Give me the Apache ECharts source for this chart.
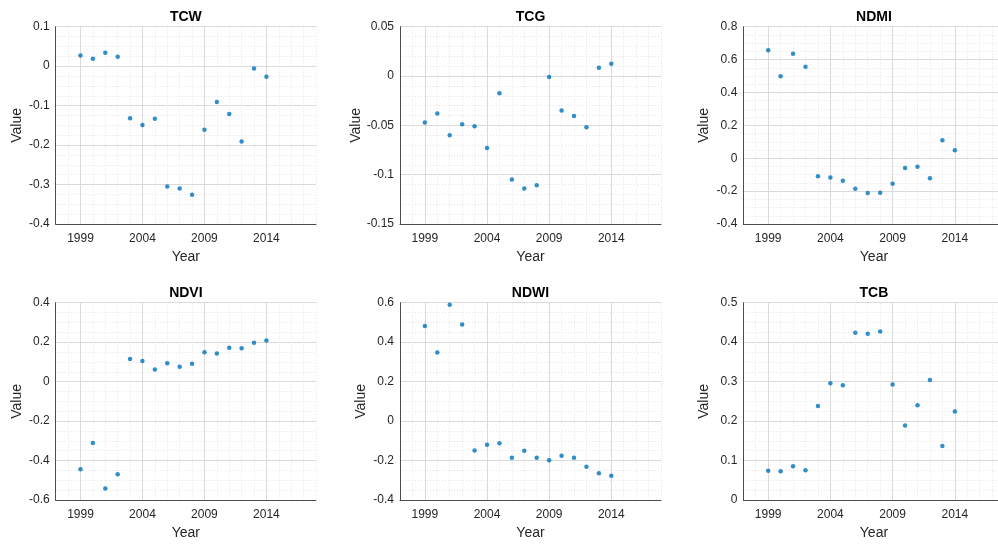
<!DOCTYPE html>
<html>
<head>
<meta charset="utf-8">
<script src="https://cdn.jsdelivr.net/npm/echarts@6/dist/echarts.min.js"></script>
<style>
html,body{margin:0;padding:0;background:#fff;}
#chart{width:998px;height:545px;}
</style>
</head>
<body>
<div id="chart"></div>
<script>
// ---- data ----
const years = [1999,2000,2001,2002,2003,2004,2005,2006,2007,2008,2009,2010,2011,2012,2013,2014];
const majorYears = [1999, 2004, 2009, 2014];
const titles = ['TCW', 'TCG', 'NDMI', 'NDVI', 'NDWI', 'TCB'];
const tcw  = [0.027, 0.019, 0.034, 0.024, -0.132, -0.149, -0.133, -0.305, -0.310, -0.326, -0.161, -0.091, -0.121, -0.191, -0.006, -0.027];
const tcg  = [-0.047, -0.038, -0.060, -0.049, -0.051, -0.073, -0.0175, -0.105, -0.114, -0.1106, -0.001, -0.035, -0.0405, -0.052, 0.0084, 0.0125];
const ndmi = [0.657, 0.498, 0.635, 0.556, -0.109, -0.117, -0.137, -0.185, -0.212, -0.210, -0.155, -0.060, -0.052, -0.121, 0.109, 0.048];
const ndvi = [-0.444, -0.311, -0.542, -0.469, 0.115, 0.105, 0.061, 0.093, 0.076, 0.091, 0.149, 0.143, 0.172, 0.169, 0.197, 0.208];
const ndwi = [0.482, 0.348, 0.590, 0.490, -0.149, -0.120, -0.113, -0.186, -0.150, -0.186, -0.198, -0.176, -0.186, -0.232, -0.265, -0.277];
const tcb  = [0.0743, 0.0726, 0.0853, 0.0752, 0.238, 0.296, 0.291, 0.424, 0.421, 0.427, 0.293, 0.189, 0.240, 0.304, 0.137, 0.224];
const yMins = [-0.4, -0.15, -0.4, -0.6, -0.4, 0];
const yMaxs = [0.1, 0.05, 0.8, 0.4, 0.6, 0.5];
const yIntervals = [0.1, 0.05, 0.2, 0.2, 0.2, 0.1];
const yMinorSplits = [4, 5, 4, 4, 4, 4];
const xMin = 1997, xMax = 2018;

// ---- layout / style ----
const allSeries = [tcw, tcg, ndmi, ndvi, ndwi, tcb];
const colLefts = [55.7, 400, 743.3];
const colWidths = [260.3, 261, 261.3];
const rowTops = [26.7, 302.7];
const plotHeight = 197.3;
const txt = '#262626';
const axisCol = '#4d4d4d';
const majorCol = '#dadada';
const minorCol = '#e4e4e4';
const fontFam = '"Liberation Sans", Arial, Helvetica, sans-serif';

const grids = [], xAxes = [], yAxes = [], series = [];
allSeries.forEach((vals, i) => {
  const col = i % 3, row = Math.floor(i / 3);
  grids.push({left: colLefts[col], width: colWidths[col], top: rowTops[row], height: plotHeight,
    containLabel: false, outerBoundsMode: 'none'});
  // main x axis: minor dotted split lines every year, labels only at major years
  xAxes.push({
    type: 'value', gridIndex: i, min: xMin, max: xMax, interval: 1, position: 'bottom',
    name: 'Year', nameLocation: 'middle', nameGap: 26,
    nameTextStyle: {color: txt, fontSize: 14, fontFamily: fontFam},
    axisLine: {show: true, onZero: false, lineStyle: {color: axisCol, width: 1}},
    axisTick: {show: false},
    axisLabel: {color: txt, fontSize: 12, fontFamily: fontFam, margin: 9,
      formatter: v => majorYears.indexOf(v) >= 0 ? String(v) : ''},
    splitLine: {show: true, lineStyle: {type: [1, 2], width: 1,
      color: [minorCol, minorCol, 'rgba(0,0,0,0)', minorCol, minorCol]}}
  });
  // overlay x axis: solid major split lines + title as name
  xAxes.push({
    type: 'value', gridIndex: i, min: xMin, max: xMax, interval: 1, position: 'top',
    name: titles[i], nameLocation: 'middle', nameGap: 3,
    nameTextStyle: {color: '#000', fontSize: 14, fontWeight: 'bold', fontFamily: fontFam},
    axisLine: {show: false}, axisTick: {show: false}, axisLabel: {show: false},
    splitLine: {show: true, lineStyle: {type: 'solid', width: 1,
      color: ['rgba(0,0,0,0)', 'rgba(0,0,0,0)', majorCol, 'rgba(0,0,0,0)', 'rgba(0,0,0,0)']}}
  });
  yAxes.push({
    type: 'value', gridIndex: i, min: yMins[i], max: yMaxs[i], interval: yIntervals[i],
    name: 'Value', nameLocation: 'middle', nameGap: 32, nameRotate: 90,
    nameTextStyle: {color: txt, fontSize: 14, fontFamily: fontFam},
    axisLine: {show: true, onZero: false, lineStyle: {color: axisCol, width: 1}},
    axisTick: {show: false},
    axisLabel: {color: txt, fontSize: 12, fontFamily: fontFam, margin: 6},
    splitLine: {show: true, lineStyle: {color: majorCol, width: 1, type: 'solid'}},
    minorTick: {show: false, splitNumber: yMinorSplits[i]},
    minorSplitLine: {show: true, lineStyle: {color: minorCol, width: 1, type: [1, 2]}}
  });
  series.push({
    type: 'scatter', xAxisIndex: 2 * i, yAxisIndex: i,
    symbol: 'circle', symbolSize: 4.5,
    itemStyle: {color: '#0072BD'},
    data: years.map((y, k) => [y, vals[k]]),
    silent: true, animation: false
  });
});

const chart = echarts.init(document.getElementById('chart'), null, {renderer: 'canvas'});
chart.setOption({
  backgroundColor: '#fff',
  animation: false,
  grid: grids,
  xAxis: xAxes,
  yAxis: yAxes,
  series: series
});
</script>
</body>
</html>
